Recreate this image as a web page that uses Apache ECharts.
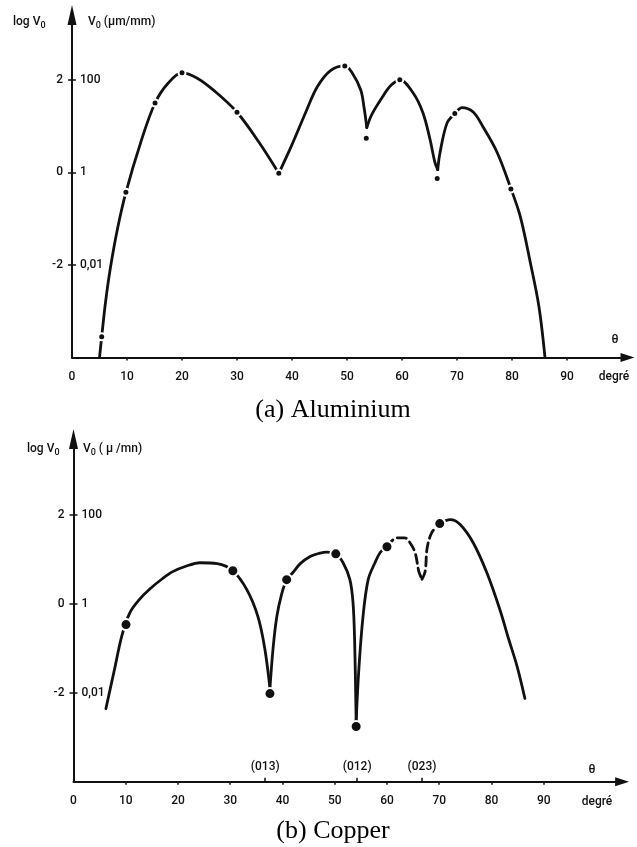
<!DOCTYPE html>
<html>
<head>
<meta charset="utf-8">
<title>Vitesse de dissolution V0 en fonction de θ</title>
<script src="https://cdn.jsdelivr.net/npm/echarts@6/dist/echarts.min.js"></script>
<style>
  html, body { margin: 0; padding: 0; background: #fff; }
  #chart { width: 637px; height: 847px; }
</style>
</head>
<body>
<div id="chart"></div>
<script>
// Axis ticks and labels (θ in degrees, log V0)
const thetaLabels = [0, 10, 20, 30, 40, 50, 60, 70, 80, 90];
const thetaTicks = [10, 20, 30, 40, 50, 60, 70, 80, 90];
const logTicks = [-2, 0, 2];
const velocityLabels = ['0,01', '1', '100'];
const millerPlanes = ['(013)', '(012)', '(023)'];
const millerAngles = [36.7, 54.3, 66.7];

// (a) Aluminium: curve arches [θ, log V0], split at the cusps
const alArch1 = [[5.0, -4.0], [5.4, -3.55], [6.1, -2.8], [7.0, -2.05], [8.3, -1.2], [9.8, -0.43],
  [12.5, 0.65], [15.1, 1.5], [17.5, 1.93], [20.0, 2.15], [22.7, 2.04], [26.0, 1.75],
  [30.0, 1.3], [34.0, 0.65], [37.6, -0.02]];
const alArch2 = [[37.6, -0.02], [40.0, 0.6], [42.5, 1.3], [44.6, 1.85], [47.0, 2.2],
  [49.6, 2.3], [50.9, 2.16], [52.5, 1.78], [53.1, 1.4], [53.6, 0.97]];
const alArch3 = [[53.6, 0.97], [54.5, 1.25], [56.5, 1.64], [58.0, 1.88], [59.6, 2.0], [62.0, 1.72],
  [63.8, 1.29], [65.1, 0.71], [66.0, 0.21], [66.5, 0.06]];
const alArch4 = [[66.5, 0.06], [66.9, 0.42], [68.2, 1.07], [69.6, 1.27], [70.9, 1.4], [72.9, 1.31],
  [74.7, 0.99], [77.3, 0.43], [79.8, -0.35], [81.5, -0.95], [83.3, -1.93], [84.9, -2.9], [86.0, -4.0]];
const alPoints = [[5.4, -3.55], [9.8, -0.43], [15.1, 1.5], [20.0, 2.15], [30.0, 1.3], [37.6, -0.02],
  [49.6, 2.3], [53.5, 0.74], [59.6, 2.0], [66.4, -0.13], [69.6, 1.27], [79.8, -0.36]];

// (b) Copper: solid arches and the dashed part between 60° and 70°
const cuArch1 = [[6.2, -2.36], [7.8, -1.5], [9.3, -0.7], [10.8, -0.2], [12.5, 0.08], [14.6, 0.33],
  [17.0, 0.56], [19.0, 0.72], [21.5, 0.84], [24.2, 0.92], [27.5, 0.9], [30.5, 0.74], [33.2, 0.31],
  [35.3, -0.29], [36.6, -1.0], [37.6, -1.9]];
const cuArch2 = [[37.6, -1.9], [38.2, -1.0], [38.9, -0.3], [39.8, 0.2], [40.8, 0.54], [42.0, 0.7],
  [43.4, 0.9], [45.3, 1.06], [47.0, 1.13], [48.5, 1.16], [50.2, 1.12], [51.6, 0.92], [52.9, 0.54],
  [53.5, 0.02], [53.8, -0.8], [54.1, -2.65]];
const cuArch3 = [[54.1, -2.65], [54.6, -1.5], [55.4, -0.3], [56.4, 0.54], [57.7, 0.92], [58.7, 1.15],
  [60.0, 1.28]];
const cuDash1 = [[60.0, 1.28], [61.9, 1.48], [63.4, 1.48], [64.4, 1.37], [65.4, 1.14], [66.1, 0.72],
  [66.7, 0.55]];
const cuDash2 = [[66.7, 0.55], [67.3, 0.72], [67.7, 1.26], [68.6, 1.6], [70.1, 1.8]];
const cuArch4 = [[70.1, 1.8], [72.1, 1.89], [74.0, 1.78], [76.5, 1.37], [79.1, 0.7], [81.6, -0.13],
  [83.3, -0.8], [84.9, -1.41], [86.4, -2.13]];
const cuPoints = [[10.05, -0.47], [30.5, 0.74], [37.6, -2.02], [40.8, 0.54], [50.2, 1.12],
  [54.1, -2.76], [60.0, 1.28], [70.1, 1.8]];

const INK = '#111';
const FONT = 'Roboto, "DejaVu Sans", sans-serif';
const WEIGHT = 500;

function thetaAxis(gridIndex, max) {
  return {
    type: 'value', gridIndex, min: 0, max,
    splitLine: { show: false },
    axisLine: { onZero: false, lineStyle: { color: INK, width: 2 },
      symbol: ['none', 'triangle'], symbolSize: [9, 14] },
    axisTick: { show: true, length: 3, lineStyle: { color: INK, width: 1.5 },
      customValues: thetaTicks },
    axisLabel: { customValues: thetaLabels, color: INK, fontFamily: FONT, fontSize: 12,
      fontWeight: WEIGHT, margin: 13 }
  };
}

function logAxes(gridIndex, max) {
  return [{
    type: 'value', gridIndex, min: -4, max, position: 'left',
    splitLine: { show: false },
    axisLine: { onZero: false, lineStyle: { color: INK, width: 2 },
      symbol: ['none', 'triangle'], symbolSize: [9, 20] },
    axisTick: { show: true, length: 4, lineStyle: { color: INK, width: 1.5 },
      customValues: logTicks },
    axisLabel: { customValues: logTicks, color: INK, fontFamily: FONT, fontSize: 12,
      fontWeight: WEIGHT, margin: 9 }
  }, {
    type: 'value', gridIndex, min: -4, max, position: 'left',
    splitLine: { show: false },
    axisLine: { show: false, onZero: false },
    axisTick: { show: true, inside: true, length: 4, lineStyle: { color: INK, width: 1.5 },
      customValues: logTicks },
    axisLabel: { inside: true, customValues: logTicks, color: INK, fontFamily: FONT,
      fontSize: 12, fontWeight: WEIGHT, margin: 8,
      formatter: v => velocityLabels[logTicks.indexOf(v)] }
  }];
}

function curve(data, xi, yi, dashed) {
  return {
    type: 'line', xAxisIndex: xi, yAxisIndex: yi, data,
    smooth: 0.35, symbol: 'none', silent: true, z: 2,
    lineStyle: { color: INK, width: 2.8, type: dashed ? [9, 5] : 'solid', cap: 'round' }
  };
}

function dots(data, xi, yi, size, ring) {
  return {
    type: 'scatter', xAxisIndex: xi, yAxisIndex: yi, data,
    symbolSize: size, silent: true, z: 3,
    itemStyle: { color: INK, borderColor: '#fff', borderWidth: ring, opacity: 1 }
  };
}

function txt(x, y, text, align) {
  return {
    type: 'text', x, y, silent: true,
    style: { text, rich: richSub, align: align || 'left', verticalAlign: 'middle', fill: INK }
  };
}

const richSub = {
  t: { fontFamily: FONT, fontSize: 12, fontWeight: WEIGHT, color: INK },
  s: { fontFamily: FONT, fontSize: 9, fontWeight: WEIGHT, color: INK, padding: [7, 0, 0, 0] }
};

const chart = echarts.init(document.getElementById('chart'));
chart.setOption({
  backgroundColor: '#fff',
  animation: false,
  grid: [
    { left: 72, top: 15, width: 555.5, height: 342.6 },
    { left: 73.5, top: 439, width: 548.6, height: 342.7 }
  ],
  xAxis: [
    thetaAxis(0, 101),
    thetaAxis(1, 105),
    {
      type: 'value', gridIndex: 1, min: 0, max: 105, position: 'bottom',
      splitLine: { show: false }, axisLine: { show: false, onZero: false },
      axisTick: { show: true, inside: true, length: 4, lineStyle: { color: INK, width: 1.5 },
        customValues: millerAngles },
      axisLabel: { inside: true, customValues: millerAngles, color: INK, fontFamily: FONT,
        fontSize: 12, fontWeight: WEIGHT, margin: 9,
        formatter: v => millerPlanes[millerAngles.indexOf(v)] }
    }
  ],
  yAxis: [...logAxes(0, 3.4), ...logAxes(1, 3.7)],
  series: [
    curve(alArch1, 0, 0), curve(alArch2, 0, 0), curve(alArch3, 0, 0), curve(alArch4, 0, 0),
    dots(alPoints, 0, 0, 7, 2),
    curve(cuArch1, 1, 2), curve(cuArch2, 1, 2), curve(cuArch3, 1, 2),
    curve(cuDash1, 1, 2, true), curve(cuDash2, 1, 2, true), curve(cuArch4, 1, 2),
    dots(cuPoints, 1, 2, 11, 2)
  ],
  graphic: [
    txt(13, 22, '{t|log V}{s|0}'),
    txt(88, 22, '{t|V}{s|0}{t| (μm/mm)}'),
    txt(615, 340, '{t|θ}', 'center'),
    txt(614, 377, '{t|degré}', 'center'),
    txt(27, 449, '{t|log V}{s|0}'),
    txt(83, 449, '{t|V}{s|0}{t| ( μ /mn)}'),
    txt(592, 770, '{t|θ}', 'center'),
    txt(597, 802, '{t|degré}', 'center'),
    {
      type: 'text', x: 333, y: 410, silent: true,
      style: { text: '(a) Aluminium', fontFamily: '"Liberation Serif", serif', fontSize: 26,
        fill: '#000', align: 'center', verticalAlign: 'middle' }
    },
    {
      type: 'text', x: 333, y: 831, silent: true,
      style: { text: '(b) Copper', fontFamily: '"Liberation Serif", serif', fontSize: 26,
        fill: '#000', align: 'center', verticalAlign: 'middle' }
    }
  ]
});
</script>
</body>
</html>
